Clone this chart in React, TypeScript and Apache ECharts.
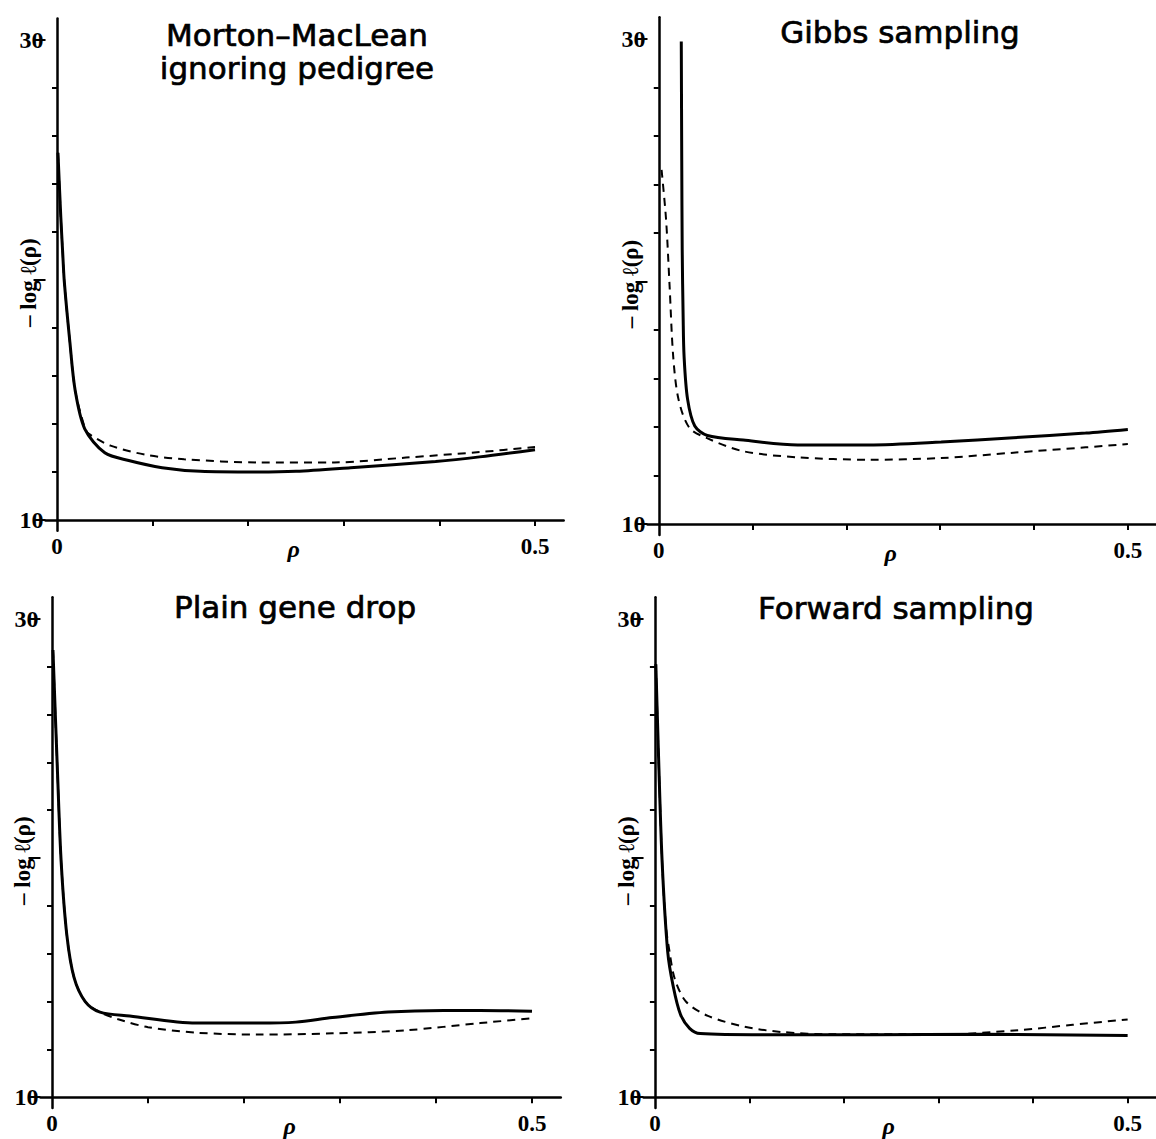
import React, { useEffect, useRef } from "react";
import * as echarts from "echarts";

// ---------- data (rho, -log l(rho)) ----------
const mortonSolid: [number, number][] = [
  [0.001, 25.3], [0.004, 22.6], [0.006, 21.1], [0.0077, 19.9], [0.0135, 17.4], [0.019, 15.4],
  [0.029, 13.8], [0.05, 12.8], [0.075, 12.48], [0.11, 12.18], [0.15, 12.03], [0.21, 12.0],
  [0.25, 12.03], [0.307, 12.18], [0.396, 12.44], [0.442, 12.63], [0.5, 12.93],
];
const mortonDashed: [number, number][] = [
  [0.001, 25.3], [0.004, 22.6], [0.006, 21.1], [0.0077, 19.9], [0.0135, 17.4], [0.019, 15.4],
  [0.029, 13.85], [0.033, 13.6], [0.056, 13.1], [0.095, 12.7], [0.133, 12.53], [0.21, 12.4],
  [0.29, 12.4], [0.365, 12.6], [0.442, 12.83], [0.5, 13.04],
];
const gibbsSolid: [number, number][] = [
  [0.024, 29.9], [0.0245, 25], [0.025, 21.3], [0.026, 18.5], [0.027, 16.9], [0.0307, 15.15],
  [0.0384, 14.04], [0.0518, 13.65], [0.09, 13.46], [0.148, 13.26], [0.224, 13.26], [0.301, 13.38],
  [0.378, 13.56], [0.455, 13.75], [0.5, 13.9],
];
const gibbsDashed: [number, number][] = [
  [0.003, 24.6], [0.0077, 22.6], [0.0115, 19.85], [0.0154, 16.9], [0.021, 15.15], [0.0326, 13.97],
  [0.052, 13.53], [0.09, 13.0], [0.148, 12.75], [0.224, 12.65], [0.301, 12.72], [0.378, 12.94],
  [0.455, 13.16], [0.5, 13.3],
];
const geneDropSolid: [number, number][] = [
  [0.001, 28.7], [0.0058, 23.5], [0.0096, 19.8], [0.0154, 16.8], [0.023, 15.0], [0.0346, 14.0],
  [0.05, 13.56], [0.081, 13.4], [0.15, 13.1], [0.215, 13.1], [0.254, 13.14], [0.292, 13.33],
  [0.35, 13.56], [0.408, 13.63], [0.446, 13.63], [0.5, 13.59],
];
const geneDropDashed: [number, number][] = [
  [0.001, 28.7], [0.0058, 23.5], [0.0096, 19.8], [0.0154, 16.8], [0.023, 15.0], [0.0346, 14.0],
  [0.05, 13.56], [0.069, 13.26], [0.1, 12.93], [0.15, 12.7], [0.215, 12.62], [0.292, 12.67],
  [0.369, 12.8], [0.446, 13.1], [0.5, 13.3],
];
const forwardSolid: [number, number][] = [
  [0.001, 28.1], [0.0039, 24.2], [0.0077, 19.8], [0.0135, 16.1], [0.0193, 14.65], [0.027, 13.47],
  [0.0367, 12.88], [0.048, 12.66], [0.114, 12.61], [0.23, 12.61], [0.346, 12.63], [0.5, 12.58],
];
const forwardDashed: [number, number][] = [
  [0.001, 28.1], [0.0039, 24.2], [0.0077, 19.8], [0.0115, 17.2], [0.0154, 16.1], [0.021, 14.95],
  [0.033, 13.99], [0.056, 13.4], [0.0946, 12.95], [0.133, 12.73], [0.19, 12.63], [0.307, 12.63],
  [0.384, 12.8], [0.442, 13.03], [0.5, 13.25],
];

const panelTitles: string[] = [
  "Morton\u2013MacLean\nignoring pedigree",
  "Gibbs sampling",
  "Plain gene drop",
  "Forward sampling",
];

// ticks & labels
const xTickValues = [0.1, 0.2, 0.3, 0.4, 0.5];
const xTickLabels = [0, 0.5];
const yMinorTicks = [12, 14, 16, 18, 22, 24, 26, 28];
const yMajorTicks = [10, 20, 30];
const yTickLabels = [10, 30];
const xAxisName = "\u03c1";
const yAxisName = "\u2013 log \u2113(\u03c1)";

// ---------- layout ----------
const W = 1156;
const H = 1139;
const X_MIN = -0.012;
const X_MAX = 0.53;
const Y_MIN = 9.55;
const Y_MAX = 30.9;
const Y_BASE = 10; // x-axis sits at y = 10

const layouts = [
  { x0: 57, x05: 535, y30: 40, y10: 520, tx: 297, ty: 51.5 },
  { x0: 659, x05: 1138, y30: 39, y10: 524, tx: 900, ty: 32 },
  { x0: 52, x05: 532, y30: 619, y10: 1101, tx: 295, ty: 607 },
  { x0: 655, x05: 1132, y30: 619, y10: 1104, tx: 896, ty: 608 },
];
const seriesSets = [
  [mortonSolid, mortonDashed],
  [gibbsSolid, gibbsDashed],
  [geneDropSolid, geneDropDashed],
  [forwardSolid, forwardDashed],
];

const SERIF = '"Liberation Serif", "DejaVu Serif", serif';
const SANS = '"DejaVu Sans", "Open Sans", sans-serif';

function buildOption() {
  const grid: any[] = [];
  const xAxis: any[] = [];
  const yAxis: any[] = [];
  const series: any[] = [];
  const graphic: any[] = [];
  const axisLineStyle = { color: "#000", width: 2.5 };

  layouts.forEach((L, i) => {
    const pxX = (L.x05 - L.x0) / 0.5;
    const pxY = (L.y10 - L.y30) / 20;
    grid.push({
      left: L.x0 + X_MIN * pxX,
      width: (X_MAX - X_MIN) * pxX,
      top: L.y30 - (Y_MAX - 30) * pxY,
      height: (Y_MAX - Y_MIN) * pxY,
      containLabel: false,
    });
    xAxis.push({
      gridIndex: i,
      type: "value",
      min: X_MIN,
      max: X_MAX,
      axisLine: { onZero: true, lineStyle: axisLineStyle },
      axisTick: { customValues: xTickValues, length: 6, lineStyle: { color: "#000", width: 2 } },
      axisLabel: {
        customValues: xTickLabels,
        formatter: (v: number) => String(v),
        color: "#000",
        fontFamily: SERIF,
        fontWeight: "bold",
        fontSize: 23,
        margin: 4,
      },
      splitLine: { show: false },
      name: xAxisName,
      nameLocation: "middle",
      nameGap: 6,
      nameMoveOverlap: false,
      nameTextStyle: {
        color: "#000",
        fontFamily: SERIF,
        fontStyle: "italic",
        fontWeight: "bold",
        fontSize: 24,
        padding: [0, 22, 0, 0],
      },
    });
    yAxis.push({
      gridIndex: i,
      type: "value",
      position: "left",
      min: Y_MIN - Y_BASE,
      max: Y_MAX - Y_BASE,
      axisLine: { onZero: true, lineStyle: axisLineStyle },
      axisTick: {
        customValues: yMinorTicks.map((v) => v - Y_BASE),
        length: 5,
        lineStyle: { color: "#000", width: 2 },
      },
      axisLabel: { show: false },
      splitLine: { show: false },
      name: yAxisName,
      nameLocation: "middle",
      nameGap: 6,
      nameRotate: 90,
      nameMoveOverlap: false,
      nameTextStyle: {
        color: "#000",
        fontFamily: SERIF,
        fontWeight: "bold",
        fontSize: 23,
        padding: [0, 16, 0, 0],
      },
    });
    yAxis.push({
      gridIndex: i,
      type: "value",
      position: "left",
      min: Y_MIN - Y_BASE,
      max: Y_MAX - Y_BASE,
      axisLine: { show: false, onZero: true },
      axisTick: {
        customValues: yMajorTicks.map((v) => v - Y_BASE),
        length: 12,
        lineStyle: { color: "#000", width: 2 },
      },
      axisLabel: {
        customValues: yTickLabels.map((v) => v - Y_BASE),
        formatter: (v: number) => String(Math.round(v + Y_BASE)),
        color: "#000",
        fontFamily: SERIF,
        fontWeight: "bold",
        fontSize: 24,
        margin: 2,
      },
      splitLine: { show: false },
    });
    const [solid, dashed] = seriesSets[i];
    series.push({
      type: "line",
      xAxisIndex: i,
      yAxisIndex: 2 * i,
      data: dashed.map(([x, y]) => [x, y - Y_BASE]),
      showSymbol: false,
      smooth: 0.3,
      lineStyle: { color: "#000", width: 2, type: [8, 6] },
      z: 3,
    });
    series.push({
      type: "line",
      xAxisIndex: i,
      yAxisIndex: 2 * i,
      data: solid.map(([x, y]) => [x, y - Y_BASE]),
      showSymbol: false,
      smooth: 0.3,
      lineStyle: { color: "#000", width: 3 },
      z: 4,
    });
    graphic.push({
      type: "text",
      x: L.tx,
      y: L.ty,
      style: {
        text: panelTitles[i],
        fill: "#000",
        stroke: "#000",
        lineWidth: 0.7,
        font: `31px ${SANS}`,
        lineHeight: 33,
        align: "center",
        verticalAlign: "middle",
      },
    });
  });

  return {
    animation: false,
    backgroundColor: "#fff",
    grid,
    xAxis,
    yAxis,
    series,
    graphic,
  };
}

export default function App() {
  const ref = useRef<HTMLDivElement>(null);
  useEffect(() => {
    document.body.style.margin = "0";
    if (!ref.current) return;
    const chart = echarts.init(ref.current, undefined, { renderer: "svg" });
    chart.setOption(buildOption() as any);
    return () => chart.dispose();
  }, []);
  return <div ref={ref} style={{ width: W, height: H }} />;
}
